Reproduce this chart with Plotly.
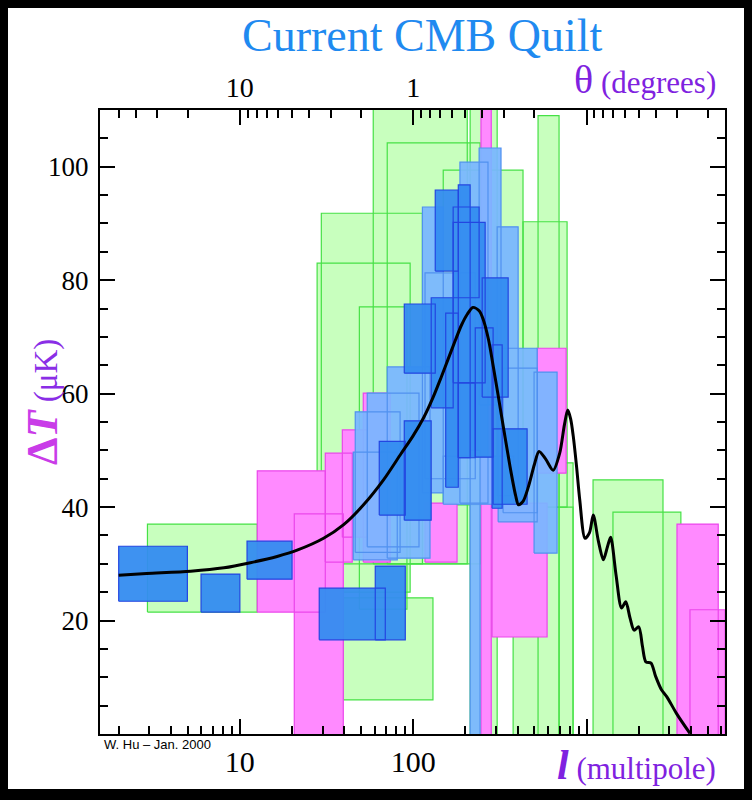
import plotly.graph_objects as go
import math

# ---------------- data ----------------
# box lists: multipole range (l_lo, l_hi) and temperature range (t_lo, t_hi) in microK
green_l_lo = [2.93, 39.5, 27.9, 29.5, 48.9, 58.8, 70.8, 149, 430, 525, 694, 1090, 1420, 213, 377]
green_l_hi = [12.6, 130, 96, 113, 92, 205, 243, 430, 772, 694, 836, 2760, 3500, 305, 836]
green_t_lo = [21.5, 6.0, 25, 30, 22, 30, 30, 40.4, 40, -2, -2, -2, -2, -2, -2]
green_t_hi = [37.0, 24.0, 83.0, 91.8, 75.3, 115, 104.2, 99.4, 90.3, 109, 47.8, 44.8, 39.1, 115, 40]

magenta_l_lo = [12.6, 20.6, 31.1, 39.0, 51.5, 519, 285, 117, 3324, 3950, 246]
magenta_l_hi = [31.1, 39.5, 44.5, 54.3, 73.7, 762, 592, 179, 5750, 6300, 282]
magenta_t_lo = [21.5, -2, 30.3, 34.7, 30.3, 46.0, 17.1, 30.3, -2, -2, -2]
magenta_t_hi = [46.4, 38.8, 49.5, 53.6, 60.1, 68.0, 40.7, 40.7, 37.0, 21.9, 115]

lblue_l_lo = [186, 240, 113, 305, 117, 70.8, 54.3, 46.3, 45.1, 309, 330, 498, 213, 149]
lblue_l_hi = [270, 321, 149, 403, 228, 125, 108, 84, 80.9, 519, 520, 676, 243, 380]
lblue_t_lo = [40.7, 58, 42.5, 42, 45, 31, 33, 32, 30.7, 37.4, 39, 31.9, -2, 40.5]
lblue_t_hi = [100.8, 103.3, 92.9, 89.4, 81.3, 64.7, 60.1, 56.8, 49.7, 68.0, 64.5, 63.8, 50, 49]

dblue_l_lo = [2.0, 5.97, 11.0, 28.7, 60.4, 63.7, 88.8, 88.8, 134, 182, 170, 170, 127, 250, 228, 285, 289, 154, 182]
dblue_l_hi = [4.98, 10.0, 20.0, 69.0, 90.0, 90.0, 126.9, 134, 182, 213, 240, 260, 170, 353, 289, 326, 454, 182, 228]
dblue_t_lo = [23.4, 21.5, 27.3, 16.6, 16.6, 38.6, 37.7, 63.6, 81.6, 48.7, 76.9, 61.9, 57.5, 59.4, 48.8, 39.8, 40.5, 43.5, 48.7]
dblue_t_hi = [33.1, 28.2, 34.0, 25.7, 29.6, 51.6, 55.2, 75.8, 95.9, 96.8, 92.9, 90.2, 76.9, 80.4, 71.6, 68.6, 53.8, 74.2, 61.9]

# theory curve
curve_l = [2, 2.9, 5.2, 8.1, 11.5, 16.4, 21.4, 30.4, 39.7, 51.7, 67.4, 85, 100, 115, 130, 145, 160, 175,
           190, 205, 221, 240, 254, 272, 290, 324, 362, 390, 405, 430, 462, 500, 532, 580, 642, 700, 745,
           779, 810, 838, 876, 914, 980, 1040, 1093, 1170, 1250, 1320, 1377, 1480, 1592, 1683,
           1780, 1880, 2000, 2100, 2200, 2355, 2500, 2705, 2900, 3306, 3950]
curve_t = [28.0, 28.3, 28.7, 29.3, 30.2, 31.3, 32.4, 34.5, 36.9, 40.4, 44.8, 49.4, 52.6, 55.8, 59.3, 62.9, 66.3, 69.4,
           72.1, 74.0, 75.2, 74.6, 73.0, 69.5, 64.7, 55.9, 47.1, 42.0, 40.4, 41.0, 43.6, 47.5, 49.8, 48.5, 46.5, 49.5, 54.5,
           57.1, 55.5, 52.5, 47.1, 41.2, 34.5, 35.5, 38.6, 34.0, 30.7, 33.0, 34.7, 28.0, 22.2, 23.3,
           20.5, 18.3, 18.9, 15.5, 12.7, 12.5, 10.2, 7.8, 6.6, 3.6, 0.1]

# axis ticks
l_major = [10, 100, 1000]
l_major_text = ["10", "100", ""]
l_minor = [2, 3, 4, 5, 6, 7, 8, 9, 20, 30, 40, 50, 60, 70, 80, 90,
           200, 300, 400, 500, 600, 700, 800, 900, 2000, 3000, 4000, 5000, 6000]
theta_major = [10, 1, 0.1]
theta_major_text = ["10", "1", ""]
theta_minor = [50, 40, 30, 20, 9, 8, 7, 6, 5, 4, 3, 2, 0.9, 0.8, 0.7, 0.6, 0.5, 0.4, 0.3, 0.2,
               0.09, 0.08, 0.07, 0.06, 0.05, 0.04, 0.03, 0.02]
t_major = [20, 40, 60, 80, 100]
t_minor = [5, 10, 15, 25, 30, 35, 45, 50, 55, 65, 70, 75, 85, 90, 95, 105]

# ---------------- figure ----------------
def boxes(l_lo, l_hi, t_lo, t_hi):
    xs, ys = [], []
    for a, b, c, d in zip(l_lo, l_hi, t_lo, t_hi):
        xs += [a, b, b, a, a, None]
        ys += [c, c, d, d, c, None]
    return xs, ys

fig = go.Figure()
groups = [
    (green_l_lo, green_l_hi, green_t_lo, green_t_hi, "rgb(200,255,190)", "rgb(70,225,70)"),
    (magenta_l_lo, magenta_l_hi, magenta_t_lo, magenta_t_hi, "rgb(255,138,255)", "rgb(235,70,235)"),
    (lblue_l_lo, lblue_l_hi, lblue_t_lo, lblue_t_hi, "rgba(120,182,255,0.93)", "rgb(80,145,240)"),
    (dblue_l_lo, dblue_l_hi, dblue_t_lo, dblue_t_hi, "rgba(52,140,240,0.95)", "rgb(35,70,225)"),
]
for a, b, c, d, fc, lc in groups:
    xs, ys = boxes(a, b, c, d)
    fig.add_trace(go.Scatter(x=xs, y=ys, mode="lines", fill="toself", fillcolor=fc,
                             line=dict(color=lc, width=1.2), hoverinfo="skip", showlegend=False))

fig.add_trace(go.Scatter(x=curve_l, y=curve_t, mode="lines",
                         line=dict(color="black", width=3, shape="spline", smoothing=0.8),
                         showlegend=False))
# invisible trace for the top (theta) axis
fig.add_trace(go.Scatter(x=[10, 100], y=[-10, -10], xaxis="x2", mode="markers",
                         marker=dict(opacity=0), showlegend=False, hoverinfo="skip"))

xr = [math.log10(1.56), math.log10(6290)]
serif = "Liberation Serif, Times New Roman, serif"
tickfont = dict(family=serif, size=30, color="black")

fig.update_layout(
    width=752, height=800,
    margin=dict(l=100, r=27, t=110, b=66),
    paper_bgcolor="black", plot_bgcolor="white",
    xaxis=dict(type="log", range=xr, showgrid=False, zeroline=False,
               showline=True, linecolor="black", linewidth=2, mirror=False,
               ticks="inside", ticklen=15, tickwidth=1.5, tickcolor="black",
               tickmode="array", tickvals=l_major, ticktext=l_major_text,
               tickfont=tickfont, ticklabelstandoff=0,
               minor=dict(tickmode="array", tickvals=l_minor, ticks="inside", ticklen=8,
                          tickwidth=1.5, tickcolor="black", showgrid=False)),
    xaxis2=dict(type="log", range=xr, overlaying="x", side="top", showgrid=False, zeroline=False,
                showline=True, linecolor="black", linewidth=2,
                ticks="inside", ticklen=15, tickwidth=1.5, tickcolor="black",
                tickmode="array", tickvals=[100 / t for t in theta_major], ticktext=theta_major_text,
                tickfont=dict(family=serif, size=28, color="black"), ticklabelstandoff=0,
                minor=dict(tickmode="array", tickvals=[100 / t for t in theta_minor], ticks="inside",
                           ticklen=8, tickwidth=1.5, tickcolor="black", showgrid=False)),
    yaxis=dict(range=[0, 110], showgrid=False, zeroline=False,
               showline=True, linecolor="black", linewidth=2, mirror="ticks",
               ticks="inside", ticklen=15, tickwidth=1.5, tickcolor="black",
               tickmode="array", tickvals=t_major, ticktext=[str(v) for v in t_major],
               tickfont=dict(family=serif, size=27, color="black"),
               ticklabelstandoff=4,
               minor=dict(tickmode="array", tickvals=t_minor, ticks="inside", ticklen=8,
                          tickwidth=1.5, tickcolor="black", showgrid=False)),
)

# white page inside the black border
fig.add_shape(type="rect", xref="paper", yref="paper",
              x0=(8 - 100) / 625, x1=(744 - 100) / 625,
              y0=(734 - 789) / 624, y1=(734 - 8) / 624,
              fillcolor="white", line=dict(width=0), layer="below")

purple = "#7f22e0"
fig.add_annotation(xref="paper", yref="paper", x=(422 - 100) / 625, y=(734 - 36) / 624,
                   text="Current CMB Quilt", showarrow=False, xanchor="center", yanchor="middle",
                   font=dict(family=serif, size=46, color="#1f8af0"))
fig.add_annotation(xref="paper", yref="paper", x=(718 - 100) / 625, y=(734 - 80) / 624,
                   text="<span style='font-size:40px'>θ</span> (degrees)", showarrow=False,
                   xanchor="right", yanchor="middle", font=dict(family=serif, size=31, color=purple))
fig.add_annotation(xref="paper", yref="paper", x=(718 - 100) / 625, y=(734 - 765) / 624,
                   text="<b><i><span style='font-size:42px'>l</span></i></b> (multipole)", showarrow=False,
                   xanchor="right", yanchor="middle", font=dict(family=serif, size=31, color=purple))
fig.add_annotation(xref="paper", yref="paper", x=(102 - 100) / 625, y=(734 - 744) / 624,
                   text="W. Hu – Jan. 2000", showarrow=False, xanchor="left", yanchor="middle",
                   font=dict(family="Liberation Sans Narrow, Arial Narrow, sans-serif", size=13, color="black"))
fig.add_annotation(xref="paper", yref="paper", x=(42 - 100) / 625, y=(734 - 402) / 624,
                   text="<b><span style='color:#c93ce8;font-size:44px'>Δ<i>T</i></span></b> <span style='color:#8a2ee6'>(μK)</span>",
                   showarrow=False, textangle=-90, xanchor="center", yanchor="middle",
                   font=dict(family=serif, size=33, color="#8a2ee6"))

fig.write_html("out.html")
